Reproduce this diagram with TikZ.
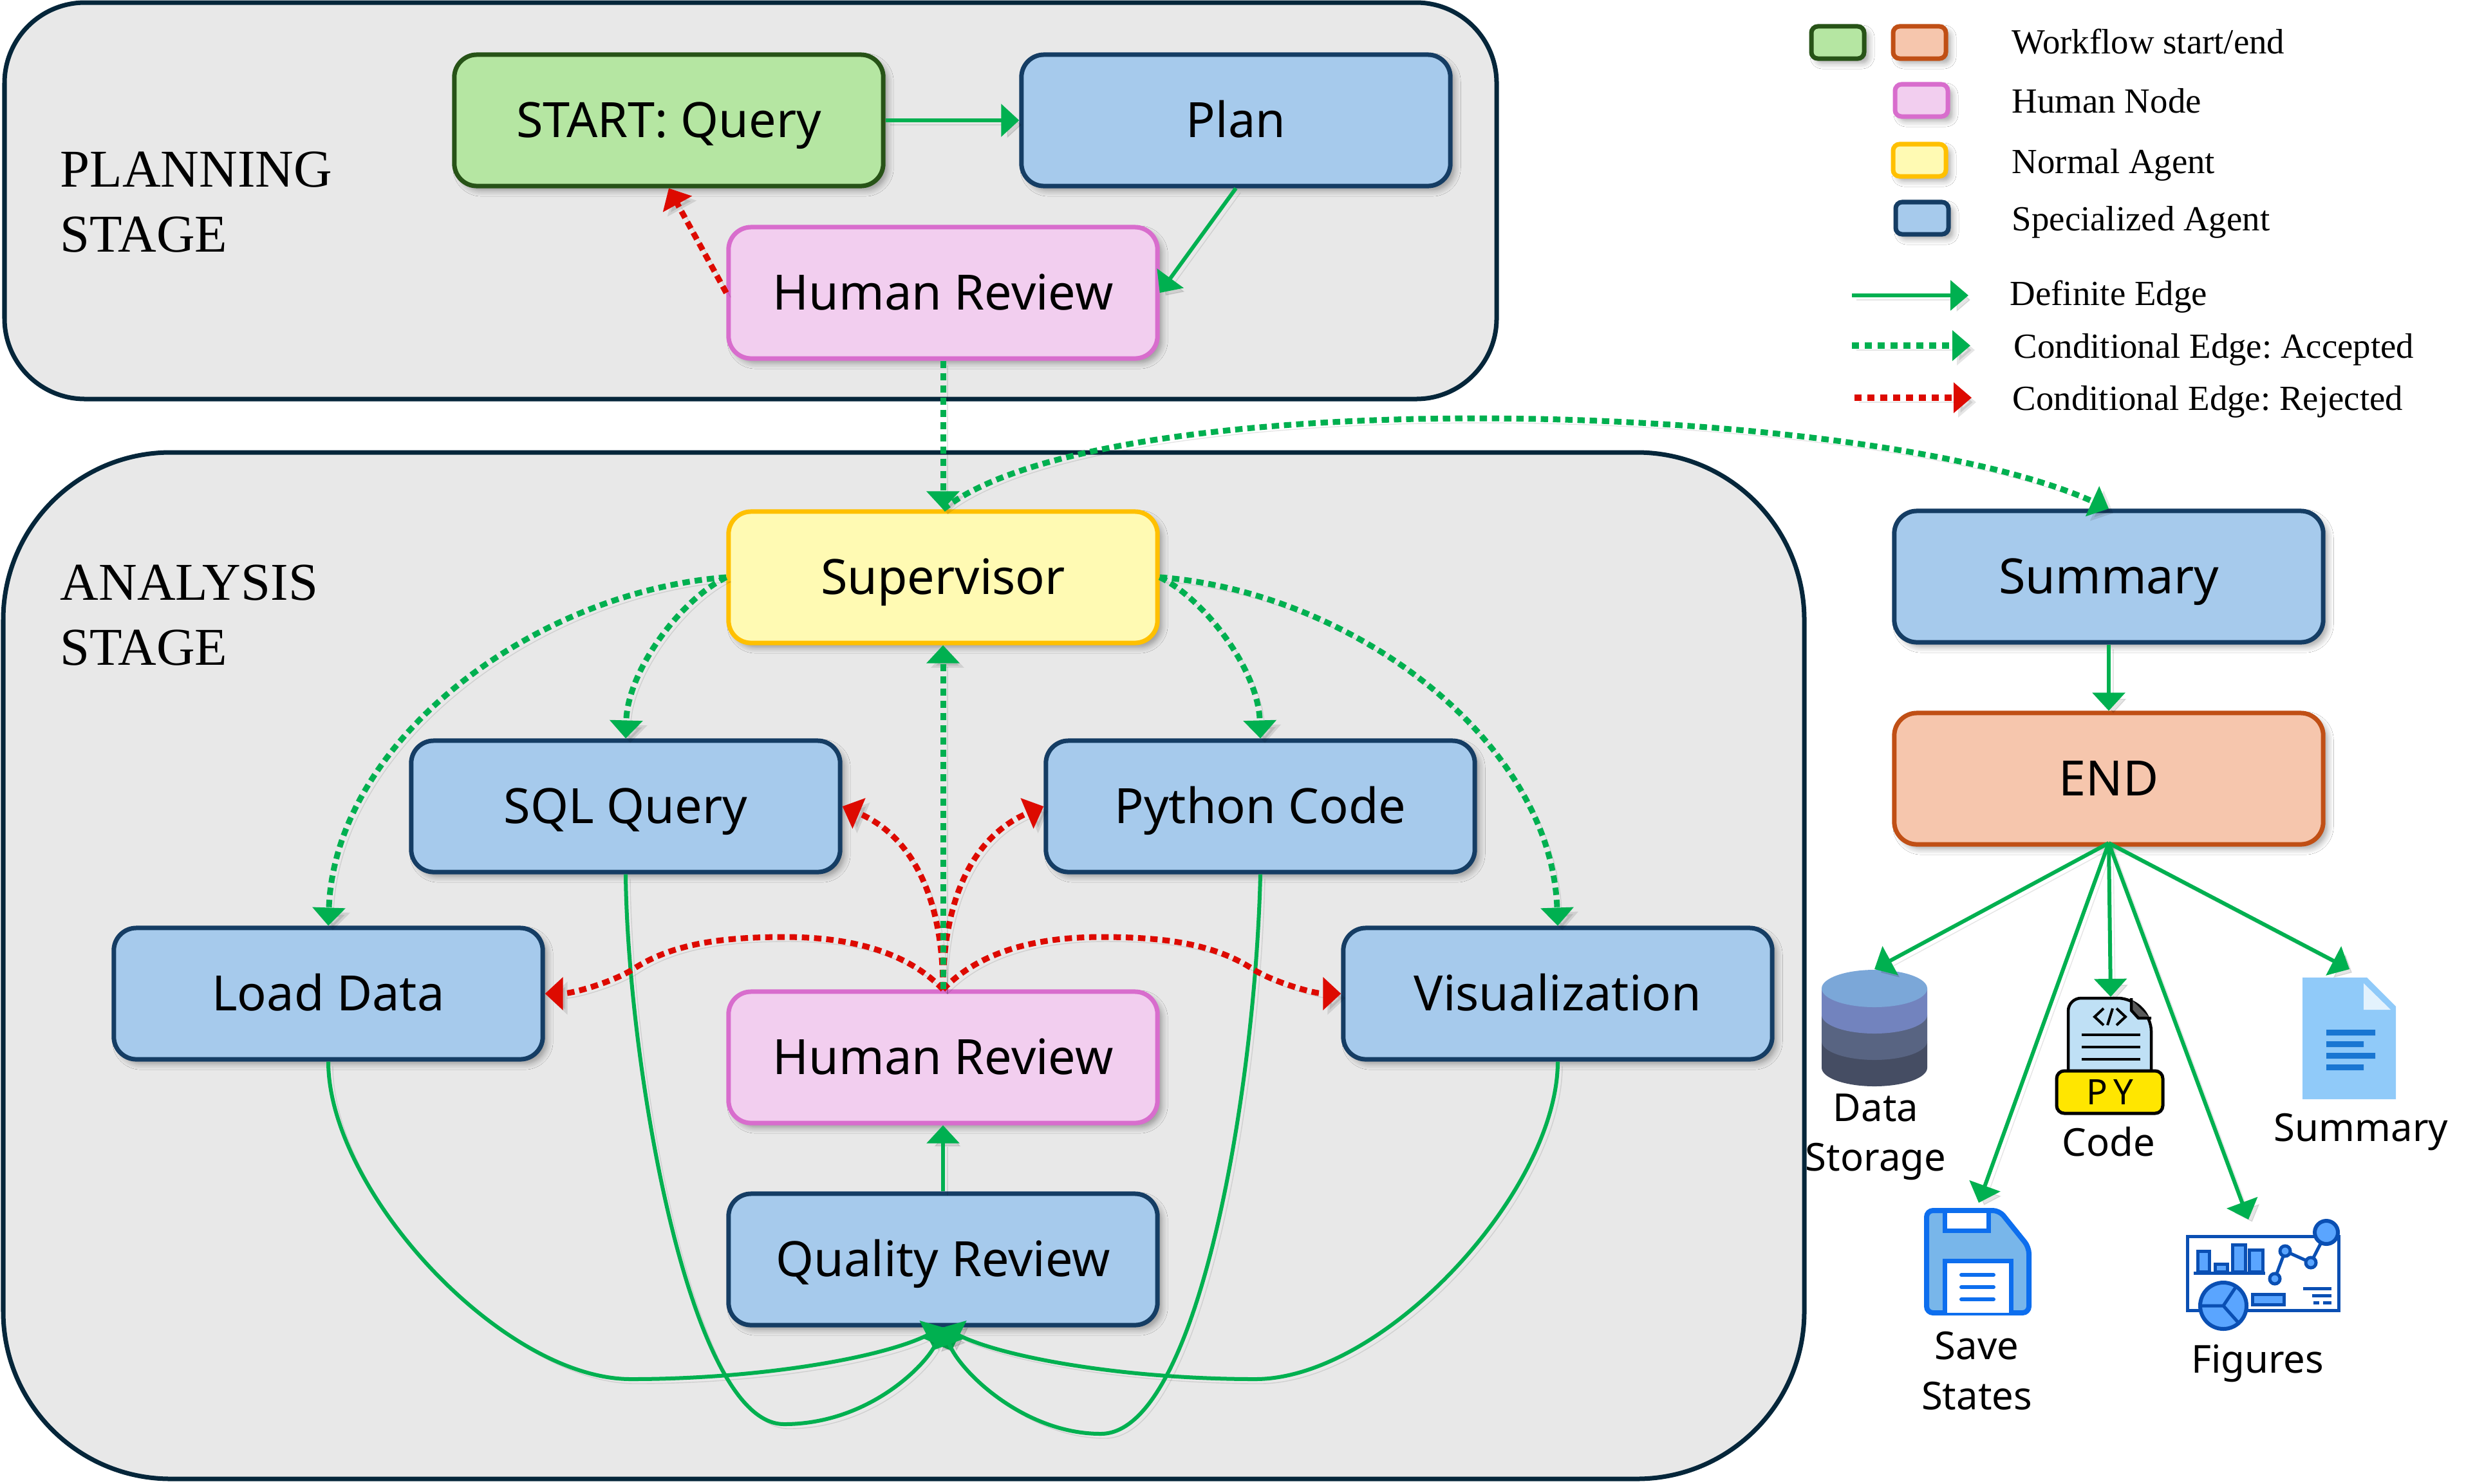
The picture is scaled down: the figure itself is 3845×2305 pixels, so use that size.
\documentclass[tikz,border=0pt]{standalone}
\usepackage{fontspec}
\setmainfont{Noto Sans}
\newfontfamily\serifface{Liberation Serif}
\usetikzlibrary{arrows.meta,shadows.blur,shapes.geometric}
\definecolor{panelfill}{HTML}{E8E8E8}
\definecolor{panelline}{HTML}{05263A}
\definecolor{greenfill}{HTML}{B5E6A2}
\definecolor{greenline}{HTML}{275317}
\definecolor{bluefill}{HTML}{A6CAEC}
\definecolor{blueline}{HTML}{153D64}
\definecolor{pinkfill}{HTML}{F2CEEF}
\definecolor{pinkline}{HTML}{D86DCD}
\definecolor{yellowfill}{HTML}{FFFAB3}
\definecolor{yellowline}{HTML}{FFC000}
\definecolor{orangefill}{HTML}{F6C6AD}
\definecolor{orangeline}{HTML}{C04F15}
\definecolor{edgegreen}{HTML}{00B050}
\definecolor{edgered}{HTML}{DD0A00}
\tikzset{
  panel/.style={draw=panelline,fill=panelfill,line width=0.07cm},
  softshadow/.style={blur shadow={shadow xshift=0.07cm,shadow yshift=-0.07cm,shadow blur radius=0.09cm,shadow opacity=35,shadow blur steps=6}},
  flowbox/.style={rectangle,rounded corners=0.35cm,line width=0.07cm,minimum width=6.66cm,minimum height=2.04cm,inner sep=0pt,text height=0.6cm,text depth=0.08cm,softshadow,font=\fontsize{21.5}{26}\selectfont,text=black},
  bluebox/.style={flowbox,draw=blueline,fill=bluefill},
  greenbox/.style={flowbox,draw=greenline,fill=greenfill},
  pinkbox/.style={flowbox,draw=pinkline,fill=pinkfill},
  yellowbox/.style={flowbox,draw=yellowline,fill=yellowfill},
  orangebox/.style={flowbox,draw=orangeline,fill=orangefill},
  keybox/.style={rectangle,rounded corners=0.1cm,line width=0.07cm,minimum width=0.82cm,minimum height=0.5cm,inner sep=0pt,softshadow},
  keytext/.style={font=\serifface\frenchspacing\fontsize{15.6}{19}\selectfont,anchor=base west,inner sep=0pt,text=black},
  stagetext/.style={font=\serifface\fontsize{23.5}{28.7}\selectfont,anchor=north west,inner sep=0pt,align=left,text=black},
  smalltext/.style={font=\fontsize{17}{22}\selectfont,align=center,inner sep=0pt,text=black},
  edgeshadow/.style={preaction={draw=black,draw opacity=0.10,fill opacity=0.10,transform canvas={xshift=0.07cm,yshift=-0.07cm}}},
  arrowed/.style={-{Triangle[length=0.28cm,width=0.5cm]},edgeshadow},
  solidedge/.style={arrowed,draw=edgegreen,line width=0.06cm},
  acceptedge/.style={arrowed,draw=edgegreen,line width=0.09cm,dash pattern=on 0.115cm off 0.075cm},
  rejectedge/.style={arrowed,draw=edgered,line width=0.09cm,dash pattern=on 0.115cm off 0.075cm},
  keyhead/.style={-{Triangle[length=0.28cm,width=0.46cm]},edgeshadow},
}
\begin{document}
\begin{tikzpicture}[x=0.01cm,y=-0.01cm]
\useasboundingbox (0,0) rectangle (3845,2305);
\fill[white] (0,0) rectangle (3845,2305);
% panels
\draw[panel,rounded corners=1.25cm] (7,4) rectangle (2325,620);
\draw[panel,rounded corners=2.6cm] (5,703) rectangle (2803,2298);
\node[stagetext] (planninglabel) at (93,235) {PLANNING\\STAGE};
\node[stagetext] (analysislabel) at (93,877) {ANALYSIS\\STAGE};
% boxes
\node[greenbox] (start) at (1039,187) {START: Query};
\node[bluebox] (plan) at (1920,187) {Plan};
\node[pinkbox] (hra) at (1465,455) {Human Review};
\node[yellowbox] (sup) at (1465,897) {Supervisor};
\node[bluebox] (sql) at (972,1253) {SQL Query};
\node[bluebox] (python) at (1958,1253) {Python Code};
\node[bluebox] (load) at (510,1544) {Load Data};
\node[bluebox] (viz) at (2420,1544) {Visualization};
\node[pinkbox] (hrb) at (1465,1643) {Human Review};
\node[bluebox] (quality) at (1465,1957) {Quality Review};
\node[bluebox] (summary) at (3276,896) {Summary};
\node[orangebox] (endnode) at (3276,1210) {END};
% data cylinder
\fill[fill={rgb,255:red,69;green,77;blue,99}] (2830,1618) -- (2830,1659) arc[start angle=180,end angle=0,x radius=82,y radius=29] -- (2994,1618) -- cycle;
\fill[fill={rgb,255:red,88;green,100;blue,130}] (2830,1577) -- (2830,1618) arc[start angle=180,end angle=0,x radius=82,y radius=29] -- (2994,1577) -- cycle;
\fill[fill={rgb,255:red,114;green,131;blue,190}] (2830,1536) -- (2830,1577) arc[start angle=180,end angle=0,x radius=82,y radius=29] -- (2994,1536) -- cycle;
\fill[fill={rgb,255:red,123;green,167;blue,216}] (2912,1536) ellipse[x radius=82,y radius=29];
% code icon
\draw[black,line width=0.045cm,fill={rgb,255:red,191;green,224;blue,245},rounded corners=0.2cm] (3213,1670) -- (3213,1551) -- (3311,1551) -- (3342,1582) -- (3342,1670);
\fill[fill=black!65] (3311,1553) -- (3340,1582) -- (3322,1582) -- (3311,1572) -- cycle;
\draw[black,line width=0.045cm] (3311,1551) -- (3311,1570) -- (3322,1582) -- (3342,1582);
\draw[black,line width=0.04cm] (3234,1608) -- (3325,1608) (3234,1627) -- (3325,1627) (3234,1646) -- (3325,1646);
\draw[black,line width=0.04cm] (3268,1567) -- (3254,1580) -- (3268,1593) (3288,1567) -- (3302,1580) -- (3288,1593) (3282,1567) -- (3274,1593);
\draw[black,line width=0.05cm,fill={rgb,255:red,255;green,230;blue,0},rounded corners=0.12cm] (3195,1664) rectangle (3360,1730);
\node[font=\fontsize{15.5}{18}\selectfont,inner sep=0pt,text=black] (pytext) at (3278,1697) {P\,Y};
% document icon
\fill[fill={rgb,255:red,144;green,202;blue,249}] (3577,1519) -- (3677,1519) -- (3722,1564) -- (3722,1708) -- (3577,1708) -- cycle;
\fill[fill={rgb,255:red,227;green,242;blue,253}] (3672,1528) -- (3672,1569) -- (3714,1569) -- cycle;
\fill[fill={rgb,255:red,25;green,118;blue,210}] (3614,1600) rectangle (3690,1609) (3614,1618) rectangle (3672,1627) (3614,1636) rectangle (3690,1645) (3614,1654) rectangle (3672,1663);
% save icon
\draw[line width=0.08cm,draw={rgb,255:red,13;green,110;blue,238},fill={rgb,255:red,120;green,182;blue,234},rounded corners=0.1cm] (2993,1881) -- (3106,1881) -- (3152,1938) -- (3152,2040) -- (2993,2040) -- cycle;
\draw[line width=0.07cm,draw={rgb,255:red,13;green,110;blue,238},fill=white] (3021,1881) rectangle (3089,1912);
\draw[line width=0.07cm,draw={rgb,255:red,13;green,110;blue,238},fill=white] (3021,2040) -- (3021,1959) -- (3124,1959) -- (3124,2040);
\draw[line width=0.06cm,draw={rgb,255:red,13;green,110;blue,238},line cap=round] (3047,1981) -- (3097,1981) (3047,2000) -- (3097,2000) (3047,2019) -- (3097,2019);
% figures icon
\begin{scope}[draw={rgb,255:red,10;green,79;blue,179},line width=0.05cm]
\draw[fill=white] (3398,1921) rectangle (3633,2036);
\fill[fill={rgb,255:red,10;green,79;blue,179}] (3408,1976) rectangle (3519,1981);
\draw[fill={rgb,255:red,90;green,165;blue,255}] (3414,1944) rectangle (3432,1976) (3441,1964) rectangle (3460,1976) (3468,1934) rectangle (3488,1976) (3494,1942) rectangle (3515,1976);
\draw (3534,1987) -- (3550,1944) -- (3590,1962) -- (3614,1915);
\draw[fill={rgb,255:red,90;green,165;blue,255}] (3550,1944) circle[radius=8] (3590,1962) circle[radius=8] (3534,1987) circle[radius=8];
\draw[fill={rgb,255:red,90;green,165;blue,255},line width=0.06cm] (3614,1915) circle[radius=18];
\draw[fill={rgb,255:red,90;green,165;blue,255},line width=0.06cm] (3454,2029) circle[radius=36];
\draw (3418,2029) -- (3454,2029) -- (3474,1999) (3454,2029) -- (3478,2056);
\draw[fill={rgb,255:red,90;green,165;blue,255}] (3499,2011) rectangle (3548,2027);
\draw (3578,2002) -- (3622,2002) (3592,2013) -- (3622,2013) (3594,2024) -- (3603,2024) (3609,2024) -- (3622,2024);
\end{scope}
% icon labels
\node[smalltext] (datalabel) at (2914,1767) {Data\\Storage};
\node[smalltext] (codelabel) at (3276,1774) {Code};
\node[smalltext] (sumlabel) at (3668,1759) {Summary};
\node[smalltext] (savelabel) at (3071,2130) {Save\\States};
\node[smalltext] (figlabel) at (3507,2119) {Figures};
% icon ends
\coordinate (dbtop) at (2912,1506);
\coordinate (codetop) at (3279,1549);
\coordinate (savetop) at (3074,1869);
\coordinate (figtop) at (3493,1895);
\coordinate (doctop) at (3650,1506);
\coordinate (endsrc) at (3276,1310);
% planning edges
\draw[solidedge] (start.east) -- (plan.west);
\draw[solidedge] (plan.south) -- (hra.east);
\draw[rejectedge] (hra.west) -- (start.south);
\draw[acceptedge] (hra.south) -- (sup.north);
\draw[acceptedge] (sup.north) .. controls (1720,590) and (2900,620) .. (summary.north);
% supervisor edges
\draw[acceptedge] (sup.west) .. controls (830,920) and (520,1150) .. (load.north);
\draw[acceptedge] (sup.east) .. controls (2100,920) and (2410,1150) .. (viz.north);
\draw[acceptedge] (sup.west) .. controls (1060,930) and (975,1040) .. (sql.north);
\draw[acceptedge] (sup.east) .. controls (1870,930) and (1955,1040) .. (python.north);
% return edges
\draw[solidedge] (load.south) .. controls (510,1850) and (780,2143) .. (980,2143) .. controls (1180,2143) and (1370,2110) .. (quality.south);
\draw[solidedge] (viz.south) .. controls (2420,1850) and (2150,2143) .. (1950,2143) .. controls (1750,2143) and (1560,2110) .. (quality.south);
\draw[solidedge] (sql.south) .. controls (975,1650) and (1070,2213) .. (1218,2213) .. controls (1350,2213) and (1440,2120) .. (quality.south);
\draw[solidedge] (python.south) .. controls (1950,1700) and (1860,2228) .. (1710,2228) .. controls (1590,2228) and (1490,2130) .. (quality.south);
\draw[solidedge] (quality.north) -- (hrb.south);
% human review edges
\draw[rejectedge] (hrb.north) .. controls (1465,1400) and (1420,1300) .. (sql.east);
\draw[rejectedge] (hrb.north) .. controls (1465,1400) and (1510,1300) .. (python.west);
\draw[rejectedge] (hrb.north) .. controls (1400,1470) and (1300,1456) .. (1218,1456) .. controls (1110,1456) and (1040,1470) .. (985,1505) .. controls (955,1525) and (890,1544) .. (load.east);
\draw[rejectedge] (hrb.north) .. controls (1530,1470) and (1630,1456) .. (1712,1456) .. controls (1820,1456) and (1890,1470) .. (1945,1505) .. controls (1975,1525) and (2040,1544) .. (viz.west);
\draw[acceptedge] (hrb.north) -- (sup.south);
% end edges
\draw[solidedge] (summary.south) -- (endnode.north);
\draw[solidedge] (endsrc) -- (dbtop);
\draw[solidedge] (endsrc) -- (codetop);
\draw[solidedge] (endsrc) -- (savetop);
\draw[solidedge] (endsrc) -- (figtop);
\draw[solidedge] (endsrc) -- (doctop);
% legend
\node[keybox,draw=greenline,fill=greenfill] (keystart) at (2855,66) {};
\node[keybox,draw=orangeline,fill=orangefill] (keyend) at (2982,66) {};
\node[keybox,draw=pinkline,fill=pinkfill] (keyhuman) at (2985,156) {};
\node[keybox,draw=yellowline,fill=yellowfill] (keynormal) at (2982,249) {};
\node[keybox,draw=blueline,fill=bluefill] (keyspecial) at (2986,339) {};
\node[keytext] (textflow) at (3125,83.5) {Workflow start/end};
\node[keytext] (texthuman) at (3125,175) {Human Node};
\node[keytext] (textnormal) at (3125,269) {Normal Agent};
\node[keytext] (textspecial) at (3125,358) {Specialized Agent};
\node[keytext] (textdefinite) at (3122,474) {Definite Edge};
\node[keytext] (textaccepted) at (3128,556) {Conditional Edge: Accepted};
\node[keytext] (textrejected) at (3126,637.5) {Conditional Edge: Rejected};
\coordinate (ka) at (2877,459); \coordinate (kb) at (3058,459);
\coordinate (kc) at (2877,537); \coordinate (kd) at (3061,537);
\coordinate (ke) at (2881,618); \coordinate (kf) at (3063,618);
\draw[keyhead,draw=edgegreen,line width=0.065cm] (ka) -- (kb);
\draw[keyhead,draw=edgegreen,line width=0.095cm,dash pattern=on 0.11cm off 0.09cm] (kc) -- (kd);
\draw[keyhead,draw=edgered,line width=0.095cm,dash pattern=on 0.11cm off 0.09cm] (ke) -- (kf);
\end{tikzpicture}
\end{document}
